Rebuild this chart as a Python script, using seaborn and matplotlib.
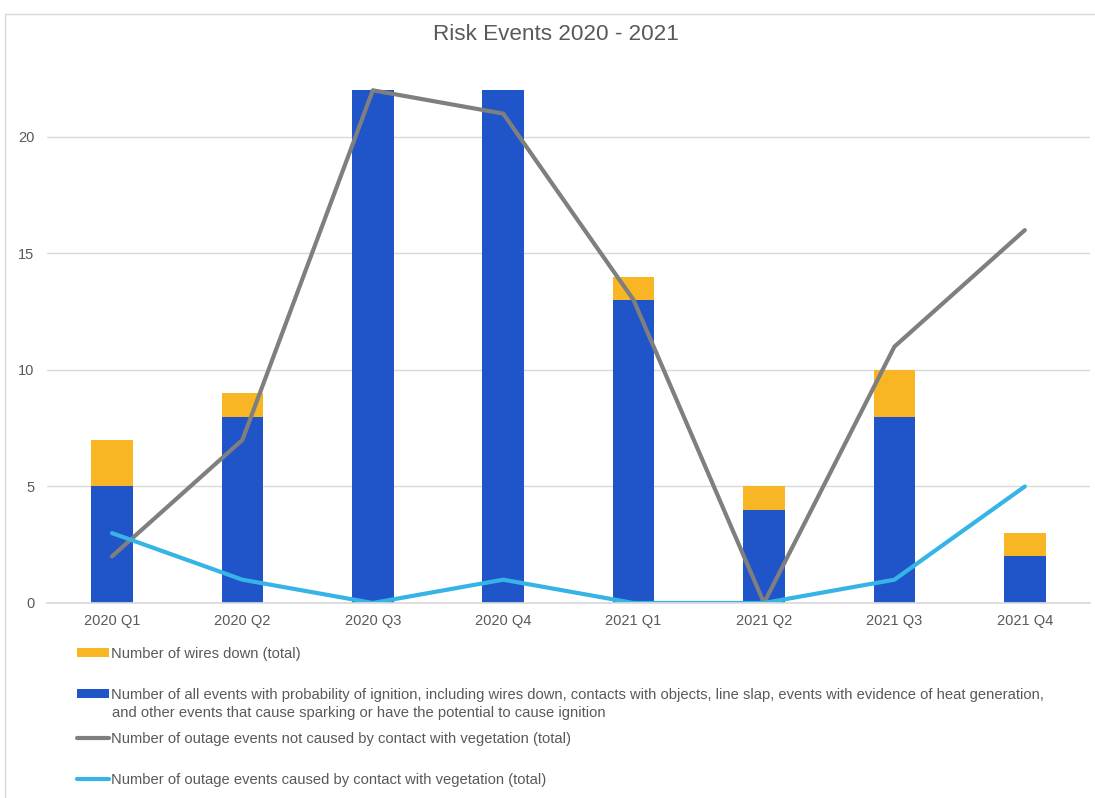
import matplotlib
matplotlib.use("Agg")
import matplotlib.pyplot as plt
import seaborn as sns
import numpy as np
from matplotlib.patches import Rectangle

quarters = ["2020 Q1", "2020 Q2", "2020 Q3", "2020 Q4", "2021 Q1", "2021 Q2", "2021 Q3", "2021 Q4"]
all_events = [5, 8, 22, 22, 13, 4, 8, 2]
wires_down = [2, 1, 0, 0, 1, 1, 2, 1]
outage_not_veg = [2, 7, 22, 21, 13, 0, 11, 16]
outage_veg = [3, 1, 0, 1, 0, 0, 1, 5]

lbl_wires = "Number of wires down (total)"
lbl_all_1 = ("Number of all events with probability of ignition, including wires down, contacts with objects, "
             "line slap, events with evidence of heat generation,")
lbl_all_2 = "and other events that cause sparking or have the potential to cause ignition"
lbl_notveg = "Number of outage events not caused by contact with vegetation (total)"
lbl_veg = "Number of outage events caused by contact with vegetation (total)"

C_ORANGE = "#F9B624"
C_BLUE = "#1F55C9"
C_GRAY = "#7F7F7F"
C_LIGHT = "#36B4E5"
TXT = "#595959"

sns.set_theme(style="white")
plt.rcParams["font.family"] = ["Liberation Sans", "DejaVu Sans"]

fig = plt.figure(figsize=(10.95, 7.98), dpi=100)
ax = fig.add_axes([46.8 / 1095, 1 - 603 / 798, (1090 - 46.8) / 1095, 536 / 798])

xpos = np.arange(len(quarters))
sns.barplot(x=quarters, y=all_events, color=C_BLUE, width=0.32, saturation=1, ax=ax,
            linewidth=0, label=lbl_all_1)
sns.barplot(x=quarters, y=wires_down, bottom=all_events, color=C_ORANGE, width=0.32,
            saturation=1, ax=ax, linewidth=0, label=lbl_wires)
sns.lineplot(x=xpos, y=outage_not_veg, color=C_GRAY, linewidth=3, ax=ax, label=lbl_notveg)
sns.lineplot(x=xpos, y=outage_veg, color=C_LIGHT, linewidth=3, ax=ax, label=lbl_veg)

ax.set_xlim(-0.5, len(quarters) - 0.5)
ax.set_ylim(0, 23)
ax.set_yticks([0, 5, 10, 15, 20])
ax.yaxis.grid(True, color="#D9D9D9", linewidth=1)
ax.set_axisbelow(True)
for s in ["top", "right", "left"]:
    ax.spines[s].set_visible(False)
ax.spines["bottom"].set_color("#D9D9D9")
ax.tick_params(axis="both", length=0, labelsize=10.5, colors=TXT, pad=8)
ax.tick_params(axis="y", pad=9)
ax.set_xlabel("")
ax.set_ylabel("")

handles, labels = ax.get_legend_handles_labels()
if ax.get_legend():
    ax.get_legend().remove()
hmap = dict(zip(labels, handles))

rows = [(lbl_wires, 654), (lbl_all_1, 695), (lbl_notveg, 739), (lbl_veg, 780)]
for lab, ypix in rows:
    fig.legend([hmap[lab]], [lab], loc="center left",
               bbox_to_anchor=(77 / 1095, 1 - ypix / 798), frameon=False,
               fontsize=10.6, handlelength=2.2, handleheight=0.55, handletextpad=0.1,
               labelcolor=TXT, borderaxespad=0, borderpad=0)
fig.text(112 / 1095, 1 - 713 / 798, lbl_all_2, ha="left", va="center",
         fontsize=10.6, color=TXT)

fig.text(556 / 1095, 1 - 35 / 798, "Risk Events 2020 - 2021", ha="center", va="center",
         fontsize=16.2, color=TXT)

fig.patches.append(Rectangle((5 / 1095, -0.01), 1.0, 1 - 14 / 798 + 0.01,
                             transform=fig.transFigure, fill=False,
                             edgecolor="#D9D9D9", linewidth=1))

fig.savefig("out.png", dpi=100)
